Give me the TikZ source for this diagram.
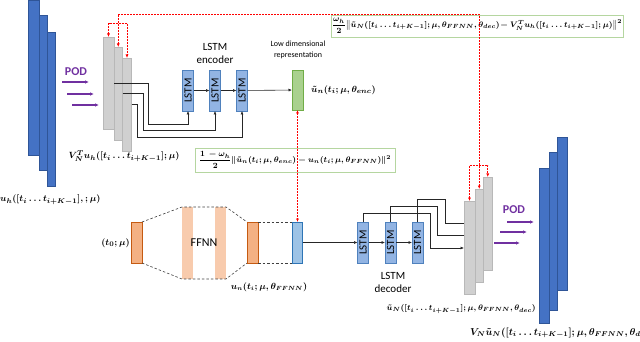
\documentclass[tikz,border=0pt]{standalone}
\usepackage{amsmath}
\usepackage{fontspec}
\setmainfont{Carlito}
\usepackage{bm}
\usetikzlibrary{arrows.meta}
\definecolor{cDB}{HTML}{4472C4}
\definecolor{cDBb}{HTML}{2F5597}
\definecolor{cGr}{HTML}{D0D0D0}
\definecolor{cGrb}{HTML}{B8B8B8}
\definecolor{cLs}{HTML}{92B4E3}
\definecolor{cLsb}{HTML}{4F81BD}
\definecolor{cGn}{HTML}{A9D18E}
\definecolor{cGnb}{HTML}{70AD47}
\definecolor{cLat}{HTML}{9DC3E6}
\definecolor{cLatb}{HTML}{2E75B6}
\definecolor{cOr}{HTML}{F4B183}
\definecolor{cOrb}{HTML}{C55A11}
\definecolor{cFf}{HTML}{F8CBAD}
\definecolor{cPod}{HTML}{7030A0}
\definecolor{cLoss}{HTML}{B5D6A0}
\definecolor{cRed}{HTML}{FF0000}
\tikzset{
  lay/.style={draw, inner sep=0pt, outer sep=0pt, line width=0.6pt, anchor=north west},
  darkblue/.style={lay, fill=cDB, draw=cDBb},
  grayl/.style={lay, fill=cGr, draw=cGrb},
  lstm/.style={lay, fill=cLs, draw=cLsb, minimum width=11pt, minimum height=41pt, font=\fontsize{11}{11}\selectfont},
  greenl/.style={lay, fill=cGn, draw=cGnb, minimum width=11pt, minimum height=40pt},
  latl/.style={lay, fill=cLat, draw=cLatb, minimum width=10pt, minimum height=41pt},
  orl/.style={lay, fill=cOr, draw=cOrb, minimum width=11pt, minimum height=41pt},
  ffl/.style={lay, draw=none, fill=cFf, minimum width=11pt, minimum height=72pt},
  conn/.style={line width=0.6pt, draw=black!85},
  tip/.style={-{Latex[length=3.5pt,width=3pt]}},
  reddash/.style={line width=0.9pt, draw=cRed, dash pattern=on 2pt off 1pt, {Latex[length=3.5pt,width=3pt]}-{Latex[length=3.5pt,width=3pt]}},
  blkdash/.style={line width=0.6pt, draw=black!75, dash pattern=on 2.5pt off 2pt},
  podarr/.style={line width=1.1pt, draw=cPod, -{Latex[length=4pt,width=3.5pt]}},
  podtxt/.style={text=cPod, font=\bfseries\fontsize{12}{12}\selectfont, inner sep=0pt},
  mlbl/.style={inner sep=0pt, font=\mathversion{bold}\fontsize{9.5}{9.5}\selectfont},
  txt/.style={inner sep=0pt, align=center, font=\fontsize{11}{13}\selectfont},
  losst/.style={draw=cLoss, line width=0.7pt, inner sep=1pt, font=\mathversion{bold}\fontsize{8.2}{8.2}\selectfont},
}
\begin{document}
\begin{tikzpicture}[x=1pt,y=-1pt]
\useasboundingbox (0,0) rectangle (640,342);
% left input stack
\node[darkblue, minimum width=8.5pt, minimum height=154pt] (in3) at (47,32) {};
\node[darkblue, minimum width=8pt, minimum height=155pt] (in2) at (39,15) {};
\node[darkblue, minimum width=11pt, minimum height=155pt] (in1) at (28,0) {};
\node[mlbl, anchor=west] (inlbl) at (0,200) {$u_h([t_i \ldots t_{i+K-1}],;\mu)$};
% POD left
\node[podtxt] (pod1) at (76,72) {POD};
\coordinate (pa1) at (62,82);  \coordinate (pb1) at (89,82);
\coordinate (pa2) at (67,94);  \coordinate (pb2) at (94,94);
\coordinate (pa3) at (72,105); \coordinate (pb3) at (99,105);
\draw[podarr] (pa1) -- (pb1);
\draw[podarr] (pa2) -- (pb2);
\draw[podarr] (pa3) -- (pb3);
% encoder gray stack
\node[grayl, minimum width=11pt, minimum height=92pt] (gA) at (103,37) {};
\node[grayl, minimum width=8.5pt, minimum height=93pt] (gB) at (114,47) {};
\node[grayl, minimum width=9pt, minimum height=93pt] (gC) at (122.5,58) {};
\node[mlbl] (glbl) at (124,156) {$V_N^T u_h([t_i \ldots t_{i+K-1}];\mu)$};
% encoder LSTMs
\node[lstm] (e1) at (182.5,70) {\rotatebox{90}{LSTM}};
\node[lstm] (e2) at (209.5,70) {\rotatebox{90}{LSTM}};
\node[lstm] (e3) at (236.5,70) {\rotatebox{90}{LSTM}};
\node[greenl] (lat1) at (292,70) {};
\node[txt] (enclbl) at (215,53) {LSTM\\encoder};
\node[inner sep=0pt, align=center, font=\fontsize{8}{10.5}\selectfont] (lowlbl) at (298,50) {Low dimensional\\representation};
\node[mlbl, anchor=west] (latlbl) at (311,90) {$\tilde{u}_n(t_i;\mu,\theta_{enc})$};
\draw[conn,tip] (e1) -- (e2);
\draw[conn,tip] (e2) -- (e3);
\draw[conn,tip] (e3) -- (lat1);
\draw[conn,tip] (gA.east) -| (148,124) -| (e1.south);
\draw[conn,tip] (gB.east) -| (143,130) -| (e2.south);
\draw[conn,tip] (gC.east) -| (137,137) -| (e3.south);
% decoder gray stack
\node[grayl, minimum width=11pt, minimum height=93pt] (dF) at (464,201) {};
\node[grayl, minimum width=8.5pt, minimum height=93pt] (dM) at (475,189) {};
\node[grayl, minimum width=8.5pt, minimum height=93pt] (dB) at (483.5,177) {};
% loss boxes
\node[losst, minimum width=286pt, minimum height=22pt] (loss1) at (477,26)
  {$\dfrac{\omega_h}{2}\big\|\tilde{u}_N([t_i \ldots t_{i+K-1}];\mu,\theta_{FFNN},\theta_{dec})\! - V_N^T u_h([t_i \ldots t_{i+K-1}];\mu)\big\|^2$};
\node[losst, minimum width=200pt, minimum height=24pt] (loss2) at (295,160)
  {$\dfrac{1\,-\omega_h}{2}\|\tilde{u}_n(t_i;\mu,\theta_{enc}) - u_n(t_i;\mu,\theta_{FFNN})\|^2$};
% red dashed links
\draw[reddash] (gB.north) -- (gB.north |- 0,14) -| (dM.north);
\draw[reddash] (gA.north) -- (gA.north |- 0,23) -| (gC.north);
\draw[reddash] (dF.north) -- (dF.north |- 0,165) -| (dB.north);
% FFNN
\node[orl] (oin) at (131,222) {};
\node[ffl] (f1) at (182,207) {};
\node[ffl] (f2) at (215,207) {};
\node[orl] (oout) at (247,222) {};
\node[latl] (lat2) at (292.5,222) {};
\draw[reddash] (lat1.south) -- (lat2.north);
\node[inner sep=0pt, font=\fontsize{12}{12}\selectfont] (fflbl) at (204,243) {FFNN};
\node[mlbl, anchor=east] (t0lbl) at (130,243) {$(t_0;\mu)$};
\node[mlbl, font=\mathversion{bold}\fontsize{9}{9}\selectfont] (unlbl) at (269,287) {$u_n(t_i;\mu,\theta_{FFNN})$};
\draw[blkdash] (oin.north east) -- (f1.north west) -- (f2.north east) -- (oout.north west);
\draw[blkdash] (oin.south east) -- (f1.south west) -- (f2.south east) -- (oout.south west);
\draw[blkdash] (oout.north east) -- (lat2.north west);
\draw[blkdash] (oout.south east) -- (lat2.south west);
% decoder LSTMs
\node[lstm] (d1) at (357.5,222) {\rotatebox{90}{LSTM}};
\node[lstm] (d2) at (385,222) {\rotatebox{90}{LSTM}};
\node[lstm] (d3) at (412,222) {\rotatebox{90}{LSTM}};
\draw[conn,tip] (lat2) -- (d1);
\draw[conn,tip] (d1) -- (d2);
\draw[conn,tip] (d2) -- (d3);
\draw[conn,tip] (d1.north) |- (430,213) |- (dF.west |- 0,248);
\draw[conn] (d2.north) |- (437.5,206) |- (dF.west |- 0,235.5);
\draw[conn] (d3.north) |- (445,199) |- (dF.west |- 0,223);
\node[txt] (declbl) at (393,282) {LSTM\\decoder};
\node[mlbl, font=\mathversion{bold}\fontsize{7.9}{7.9}\selectfont, anchor=east] (dlbl) at (536,309) {$\tilde{u}_N([t_i \ldots t_{i+K-1}];\mu,\theta_{FFNN},\theta_{dec})$};
% POD right
\node[podtxt] (pod2) at (514,210) {POD};
\coordinate (qa1) at (507,222); \coordinate (qb1) at (534,222);
\coordinate (qa2) at (500,232); \coordinate (qb2) at (527,232);
\coordinate (qa3) at (494,243); \coordinate (qb3) at (520,243);
\draw[podarr] (qa1) -- (qb1);
\draw[podarr] (qa2) -- (qb2);
\draw[podarr] (qa3) -- (qb3);
% right output stack
\node[darkblue, minimum width=10pt, minimum height=153pt] (out3) at (557,137) {};
\node[darkblue, minimum width=8pt, minimum height=158pt] (out2) at (549,152) {};
\node[darkblue, minimum width=10pt, minimum height=155pt] (out1) at (539,168) {};
\node[mlbl, font=\mathversion{bold}\fontsize{9.6}{9.6}\selectfont, anchor=west] (outlbl) at (470,333) {$V_N\tilde{u}_N([t_i \ldots t_{i+K-1}];\mu,\theta_{FFNN},\theta_{dec})$};
\end{tikzpicture}
\end{document}
